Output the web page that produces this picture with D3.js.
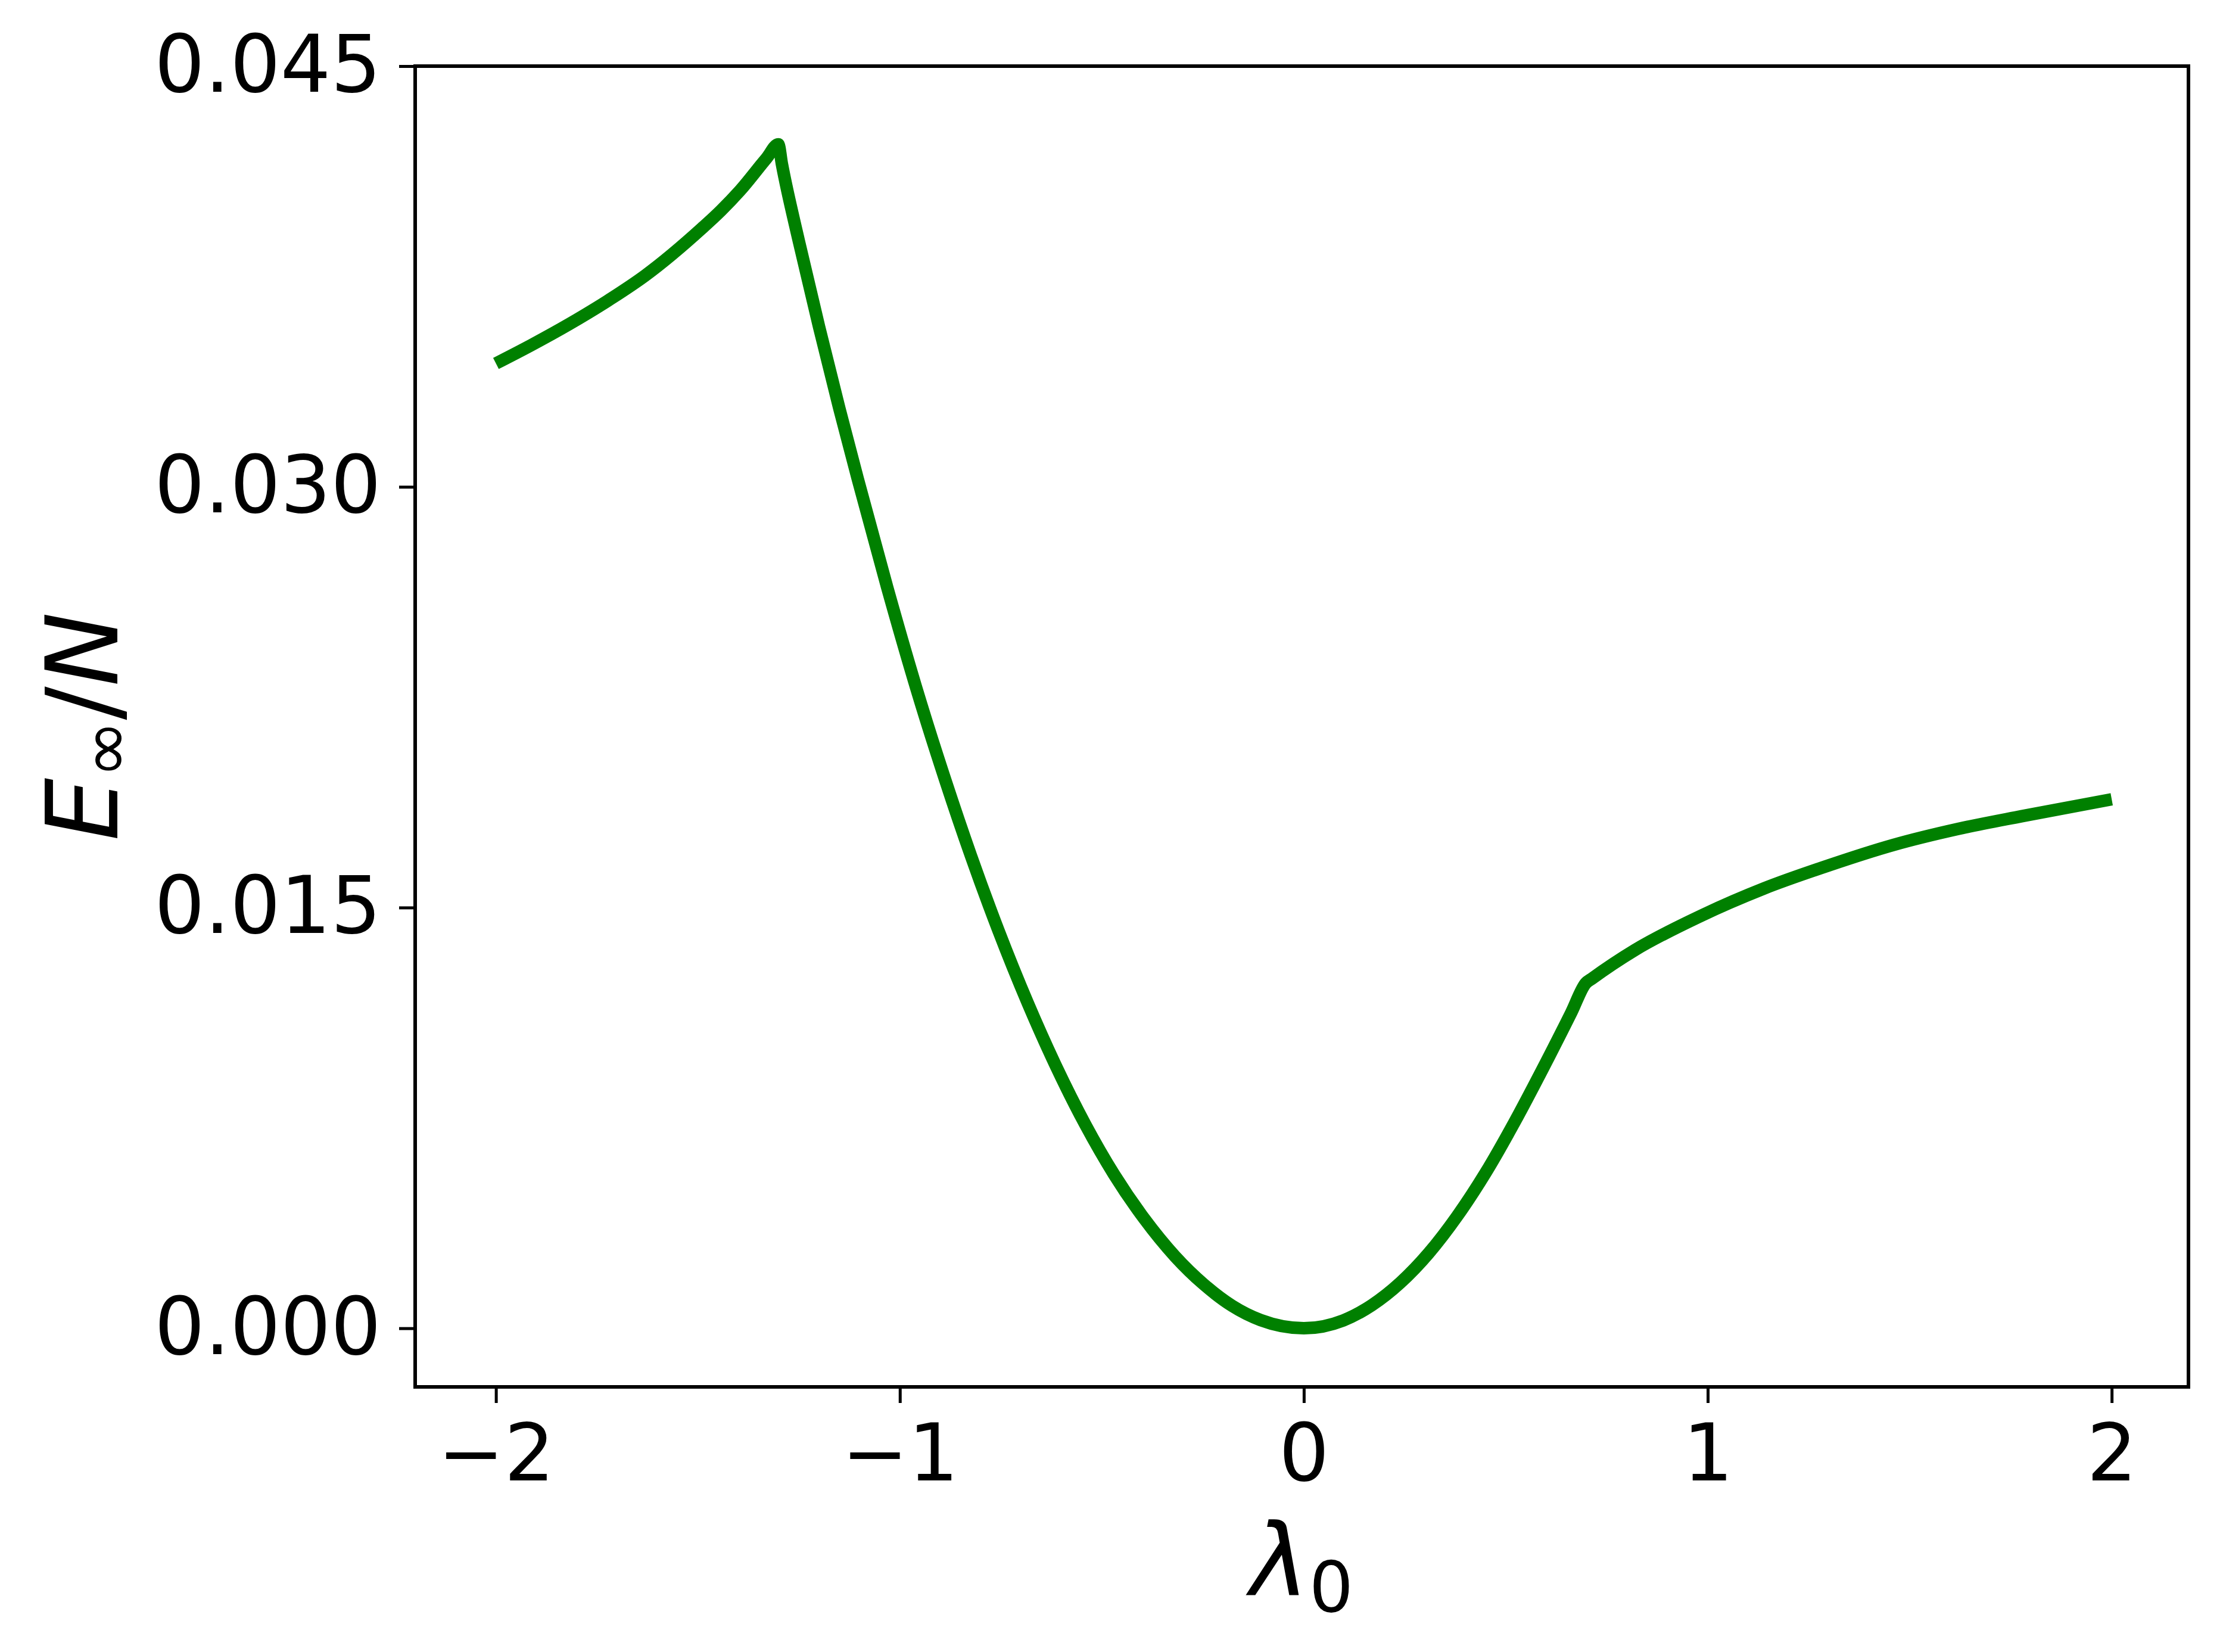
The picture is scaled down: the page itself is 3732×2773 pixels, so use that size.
<!DOCTYPE html>
<html>
<head>
<meta charset="utf-8">
<script src="https://cdn.jsdelivr.net/npm/d3@7"></script>
<style>
  body { margin: 0; background: #fff; }
  svg { display: block; }
  text { font-family: "DejaVu Sans", sans-serif; }
</style>
</head>
<body>
<svg id="chart"></svg>
<script>
// data: lambda_0 and E_inf / N
var lambdas = [-2.0, -1.913, -1.819, -1.725, -1.631, -1.49, -1.443, -1.396, -1.33, -1.301,
  -1.292, -1.25, -1.2, -1.15, -1.1046, -1.0311, -0.9606, -0.8873, -0.8237, -0.756,
  -0.6827, -0.6121, -0.5416, -0.4696, -0.3963, -0.3186, -0.2481, -0.1776, -0.1069, 0,
  0.0976, 0.1681, 0.2387, 0.3093, 0.3798, 0.4503, 0.5209, 0.5914, 0.662, 0.6978,
  0.7137, 0.8202, 0.9794, 1.1391, 1.2989, 1.4591, 1.6189, 1.7786, 2.0];
var energies = [0.0344, 0.03505, 0.0358, 0.03662, 0.03753, 0.03922, 0.03985, 0.04056, 0.04172, 0.04221,
  0.0415, 0.03875, 0.0357, 0.0328, 0.0303, 0.0264, 0.02288, 0.01953, 0.01683, 0.01418,
  0.01157, 0.0093, 0.00728, 0.00548, 0.00393, 0.00256, 0.00157, 0.0008, 0.00029, 0,
  0.00028, 0.00082, 0.00162, 0.00268, 0.004, 0.00555, 0.00733, 0.00925, 0.01125, 0.0123,
  0.01247, 0.01349, 0.01468, 0.01568, 0.0165, 0.01723, 0.0178, 0.01826, 0.01886];
var xTicks = [-2, -1, 0, 1, 2];
var yTicks = [0, 0.015, 0.03, 0.045];

// layout
var totalWidth = 3732;
var totalHeight = 2773;
var margin = {top: 111, right: 58, bottom: 445, left: 697};
var width = totalWidth - margin.left - margin.right;
var height = totalHeight - margin.top - margin.bottom;

var x = d3.scaleLinear().domain([-2.2, 2.19]).range([0, width]);
var y = d3.scaleLinear().domain([-0.00209, 0.045]).range([height, 0]);

var svg = d3.select('#chart')
  .attr('width', totalWidth)
  .attr('height', totalHeight);

var g = svg.append('g')
  .attr('transform', 'translate(' + margin.left + ',' + margin.top + ')');

// curve
var points = lambdas.map(function(l, i) { return {x: l, y: energies[i]}; });
var line = d3.line()
  .x(function(d) { return x(d.x); })
  .y(function(d) { return y(d.y); })
  .curve(d3.curveMonotoneX);

g.append('path')
  .datum(points)
  .attr('d', line)
  .attr('fill', 'none')
  .attr('stroke', '#008000')
  .attr('stroke-width', 21)
  .attr('stroke-linejoin', 'round');

// axes
var xAxis = g.append('g')
  .attr('transform', 'translate(0,' + height + ')')
  .call(d3.axisBottom(x).tickValues(xTicks).tickSize(27).tickPadding(36).tickFormat(d3.format('d')));

var yAxis = g.append('g')
  .call(d3.axisLeft(y).tickValues(yTicks).tickSize(27).tickPadding(30).tickFormat(d3.format('.3f')));

[xAxis, yAxis].forEach(function(a) {
  a.select('.domain').remove();
  a.selectAll('.tick line').attr('stroke', '#000').attr('stroke-width', 5);
  a.selectAll('.tick text')
    .attr('fill', '#000')
    .style('font-size', '133px')
    .style('font-family', '"DejaVu Sans", sans-serif');
});

// frame
g.append('rect')
  .attr('x', 0)
  .attr('y', 0)
  .attr('width', width)
  .attr('height', height)
  .attr('fill', 'none')
  .attr('stroke', '#000')
  .attr('stroke-width', 6);

// x label: lambda_0
var xLabel = svg.append('text')
  .attr('x', margin.left + width / 2)
  .attr('y', 2677)
  .attr('text-anchor', 'middle')
  .style('font-size', '167px');
xLabel.append('tspan').style('font-style', 'oblique').text('λ');
xLabel.append('tspan').attr('dy', 28).style('font-size', '117px').text('0');

// y label: E_inf / N
var yLabel = svg.append('text')
  .attr('transform', 'translate(197,' + (margin.top + height / 2) + ') rotate(-90)')
  .attr('text-anchor', 'middle')
  .style('font-size', '167px');
yLabel.append('tspan').style('font-style', 'oblique').text('E');
yLabel.append('tspan').attr('dy', 20).style('font-size', '117px').text('∞');
yLabel.append('tspan').attr('dy', -20).text('/');
yLabel.append('tspan').style('font-style', 'oblique').text('N');
</script>
</body>
</html>
